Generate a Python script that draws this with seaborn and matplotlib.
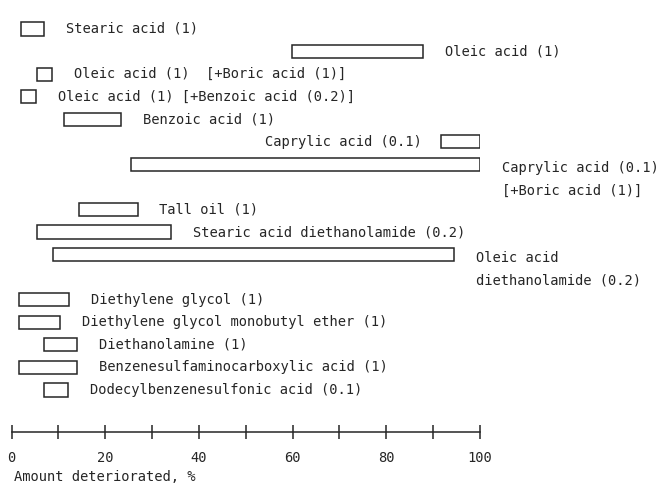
import numpy as np
import pandas as pd
import matplotlib
matplotlib.use("Agg")
import matplotlib.pyplot as plt
import seaborn as sns

# ---------------- data ----------------
labels = [
    "Stearic acid (1)",
    "Oleic acid (1)",
    "Oleic acid (1)  [+Boric acid (1)]",
    "Oleic acid (1) [+Benzoic acid (0.2)]",
    "Benzoic acid (1)",
    "Caprylic acid (0.1)",
    "Caprylic acid (0.1)\n[+Boric acid (1)]",
    "Tall oil (1)",
    "Stearic acid diethanolamide (0.2)",
    "Oleic acid\ndiethanolamide (0.2)",
    "Diethylene glycol (1)",
    "Diethylene glycol monobutyl ether (1)",
    "Diethanolamine (1)",
    "Benzenesulfaminocarboxylic acid (1)",
    "Dodecylbenzenesulfonic acid (0.1)",
]
low = [2.0, 59.8, 5.4, 2.0, 11.1, 91.7, 25.5, 14.5, 5.4, 8.9, 1.5, 1.5, 7.0, 1.5, 7.0]
high = [7.0, 87.8, 8.7, 5.2, 23.3, 100.0, 100.0, 26.9, 34.0, 94.4, 12.3, 10.4, 14.0, 14.0, 12.1]
label_side = ["right"] * 5 + ["left"] + ["right"] * 9
xticks = list(range(0, 101, 10))
xtick_labels = ["0", "", "20", "", "40", "", "60", "", "80", "", "100"]
xlabel = "Amount deteriorated, %"

# ---------------- style ----------------
sns.set_theme(style="white")
plt.rcParams["font.family"] = ["DejaVu Sans Mono", "DejaVu Sans"]
FS = 9.9
INK = "#262626"

n_lines = [lab.count("\n") + 1 for lab in labels]
slot = np.concatenate([[0], np.cumsum(n_lines)[:-1]])
df = pd.DataFrame({
    "slot": slot,
    "span": np.array(high) - np.array(low),
    "low": low,
})

W, H = 671, 495
fig = plt.figure(figsize=(W / 100, H / 100), dpi=100)
ax_bottom_px = 431.7
row0_px, row_step_px = 29.0, 22.56
ax = fig.add_axes([11.5 / W, (H - ax_bottom_px) / H, (480 - 11.5) / W, ax_bottom_px / H])

sns.barplot(
    data=df, x="span", y="slot", orient="y", native_scale=True,
    errorbar=None, width=0.58, color="white", saturation=1,
    left=df["low"].to_numpy(),
    facecolor="white", edgecolor=INK, linewidth=1.1, ax=ax,
)

ax.set_xlim(0, 100)
ax.set_ylim((ax_bottom_px - row0_px) / row_step_px, -row0_px / row_step_px)

for lab, lo, hi, s, side, nl in zip(labels, low, high, slot, label_side, n_lines):
    if side == "right":
        xy, dx, ha = (hi, s), 15.8, "left"
    else:
        xy, dx, ha = (lo, s), -14.2, "right"
    if nl == 1:
        ax.annotate(lab, xy=xy, xytext=(dx, 0), textcoords="offset points",
                    ha=ha, va="center", fontsize=FS, color=INK)
    else:
        ax.annotate(lab, xy=xy, xytext=(dx, 2.6), textcoords="offset points",
                    ha=ha, va="top", fontsize=FS, color=INK, linespacing=1.8)

ax.set_xlabel("")
ax.set_ylabel("")
ax.set_yticks([])
ax.set_xticks(xticks)
ax.set_xticklabels(xtick_labels)
ax.tick_params(axis="x", bottom=True, direction="inout", length=10, width=1.1,
               color=INK, pad=9, labelsize=FS, labelcolor=INK)
for sp in ["top", "right", "left"]:
    ax.spines[sp].set_visible(False)
ax.spines["bottom"].set_color(INK)
ax.spines["bottom"].set_linewidth(1.1)
ax.patch.set_alpha(0)

fig.text(14 / W, 1 - 477 / H, xlabel, ha="left", va="center", fontsize=FS, color=INK)

fig.savefig("out.png", dpi=100)
